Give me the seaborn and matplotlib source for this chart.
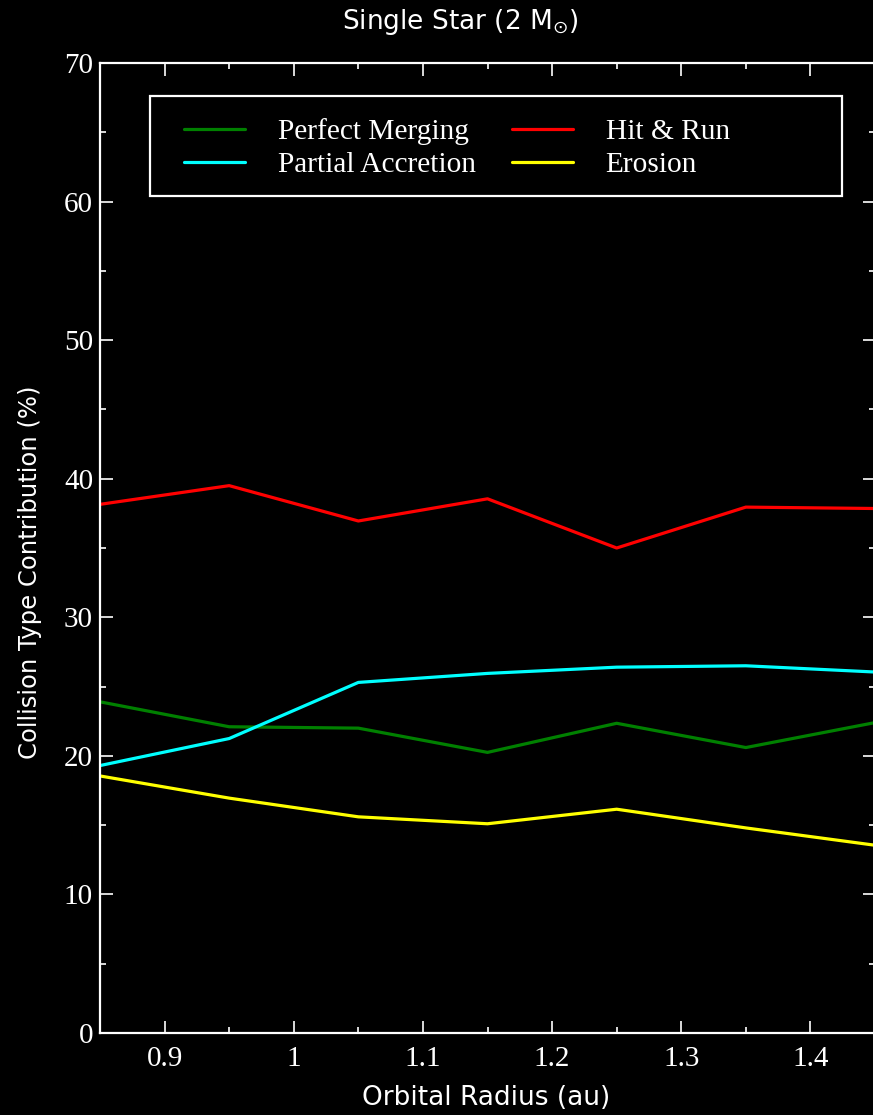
import matplotlib
matplotlib.use("Agg")
import matplotlib.pyplot as plt
from matplotlib.patches import Rectangle
from matplotlib.ticker import MultipleLocator, FuncFormatter
import seaborn as sns
import pandas as pd

# Orbital radius grid (au)
radius = [0.85, 0.95, 1.05, 1.15, 1.25, 1.35, 1.45]

# Collision outcome shares (%)
perfect_merging = [23.9, 22.1, 22.0, 20.25, 22.35, 20.6, 22.4]
hit_and_run = [38.15, 39.5, 36.95, 38.55, 35.0, 37.95, 37.85]
partial_accretion = [19.3, 21.25, 25.3, 25.95, 26.4, 26.5, 26.05]
erosion = [18.55, 16.95, 15.6, 15.1, 16.15, 14.8, 13.55]

series_names = ["Perfect Merging", "Hit & Run", "Partial Accretion", "Erosion"]
series_values = [perfect_merging, hit_and_run, partial_accretion, erosion]
series_colors = ["#008000", "#ff0000", "#00ffff", "#ffff00"]

title_text = r"Single Star (2 M$_{\odot}$)"
xlabel_text = "Orbital Radius (au)"
ylabel_text = "Collision Type Contribution (%)"

df = pd.DataFrame(
    [(r, v, name) for name, vals in zip(series_names, series_values)
     for r, v in zip(radius, vals)],
    columns=["radius", "value", "type"],
)

sns.set_theme(style="ticks")
plt.rcParams.update({
    "figure.facecolor": "black",
    "axes.facecolor": "black",
    "savefig.facecolor": "black",
    "axes.edgecolor": "white",
    "text.color": "white",
    "xtick.color": "white",
    "ytick.color": "white",
    "mathtext.fontset": "dejavusans",
})

W, H = 873, 1115
fig = plt.figure(figsize=(W / 100, H / 100), dpi=100)
ax = fig.add_axes([100 / W, (H - 1033) / H, 775 / W, 970 / H])

sns.lineplot(data=df, x="radius", y="value", hue="type",
             hue_order=series_names, palette=series_colors,
             linewidth=2.3, ax=ax, legend=False, sort=False)

ax.set_xlim(0.85, 1.45)
ax.set_ylim(0, 70)
ax.xaxis.set_major_locator(MultipleLocator(0.1))
ax.xaxis.set_minor_locator(MultipleLocator(0.05))
ax.yaxis.set_major_locator(MultipleLocator(10))
ax.yaxis.set_minor_locator(MultipleLocator(5))
ax.xaxis.set_major_formatter(FuncFormatter(lambda v, p: f"{v:g}"))
ax.yaxis.set_major_formatter(FuncFormatter(lambda v, p: f"{v:g}"))

for sp in ax.spines.values():
    sp.set_linewidth(1.6)
    sp.set_color("white")

ax.tick_params(which="both", direction="in", top=True, right=True,
               color="white", width=1.2)
ax.tick_params(which="major", length=9)
ax.tick_params(which="minor", length=4.5)
ax.tick_params(axis="x", which="major", pad=9)
ax.tick_params(axis="y", which="major", pad=5)
for lab in ax.get_xticklabels() + ax.get_yticklabels():
    lab.set_fontfamily("Liberation Serif")
    lab.set_fontsize(21)
    lab.set_color("white")

ax.set_xlabel("")
ax.set_ylabel("")

# Legend with a fixed-size frame
handles = [plt.Line2D([], [], color=c, linewidth=2.3) for c in series_colors]
order = [0, 2, 1, 3]
leg = ax.legend([handles[i] for i in order], [series_names[i] for i in order],
                ncol=2, frameon=False, loc="upper left",
                bbox_to_anchor=(0.0968, 0.952), borderaxespad=0, borderpad=0.3,
                prop={"family": "Liberation Serif", "size": 21.2},
                handlelength=2.07, handletextpad=1.12, columnspacing=1.22,
                labelspacing=0.2)
for t in leg.get_texts():
    t.set_color("white")
ax.add_patch(Rectangle((0.0645, 0.863), 0.8925, 0.103, transform=ax.transAxes,
                       fill=False, edgecolor="white", linewidth=1.6, zorder=5))

fig.text(460 / W, 1 - 22 / H, title_text, ha="center", va="center",
         fontsize=19, family="DejaVu Sans", color="white")
fig.text(486 / W, 1 - 1098 / H, xlabel_text, ha="center", va="center",
         fontsize=19, family="DejaVu Sans", color="white")
fig.text(30 / W, 1 - 572 / H, ylabel_text, ha="center", va="center",
         rotation=90, fontsize=17.5, family="DejaVu Sans", color="white")

fig.savefig("out.png", dpi=100, facecolor="black")
